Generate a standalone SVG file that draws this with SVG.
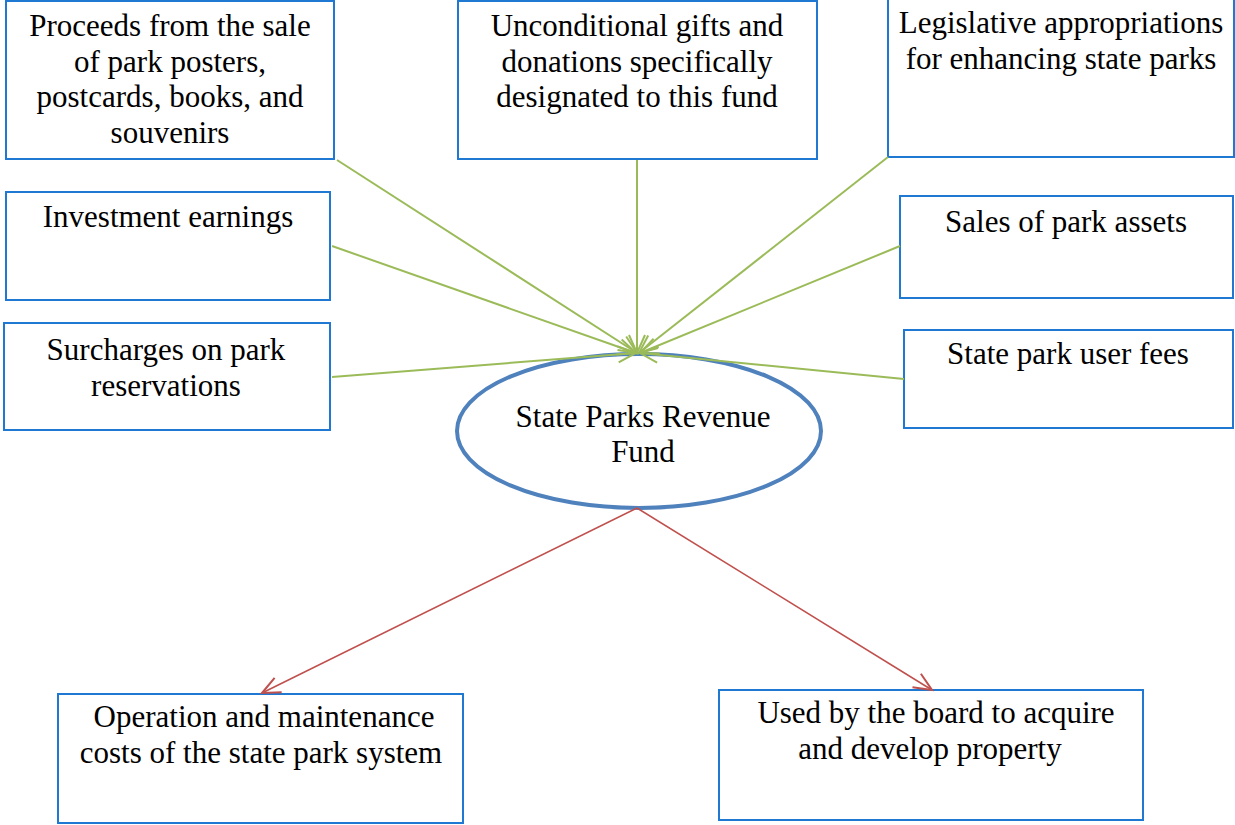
<svg xmlns="http://www.w3.org/2000/svg" width="1235" height="825" viewBox="0 0 1235 825">
<style>
.box{fill:#fff;stroke:#1f78d1;stroke-width:2}
.t{font-family:"Liberation Serif","Times New Roman",serif;font-size:31px;fill:#000;text-anchor:middle}
.g{stroke:#9bbb59;stroke-width:2;fill:none}
.r{stroke:#c0504d;stroke-width:1.6;fill:none}
</style>
<defs>
<marker id="ag" markerUnits="userSpaceOnUse" markerWidth="24" markerHeight="20" viewBox="0 0 24 20" refX="21" refY="10" orient="auto">
<path d="M3,2 L21,10 L3,18" stroke="#9bbb59" stroke-width="2" fill="none"/>
</marker>
<marker id="ar" markerUnits="userSpaceOnUse" markerWidth="24" markerHeight="20" viewBox="0 0 24 20" refX="21" refY="10" orient="auto">
<path d="M3,2 L21,10 L3,18" stroke="#c0504d" stroke-width="2" fill="none"/>
</marker>
</defs>
<rect width="1235" height="825" fill="#fff"/>
<g id="n1"><rect class="box" x="6" y="1" width="328" height="158"/>
<text class="t" x="170" y="36">Proceeds from the sale</text>
<text class="t" x="170" y="71.5">of park posters,</text>
<text class="t" x="170" y="107">postcards, books, and</text>
<text class="t" x="170" y="142.5">souvenirs</text></g>
<g id="n2"><rect class="box" x="458" y="1" width="359" height="158"/>
<text class="t" x="637" y="36">Unconditional gifts and</text>
<text class="t" x="637" y="71.5">donations specifically</text>
<text class="t" x="637" y="107">designated to this fund</text></g>
<g id="n3"><rect class="box" x="888" y="-2" width="346" height="159"/>
<text class="t" x="1061" y="33">Legislative appropriations</text>
<text class="t" x="1061" y="68.5">for enhancing state parks</text></g>
<g id="n4"><rect class="box" x="6" y="192" width="324" height="108"/>
<text class="t" x="168" y="227">Investment earnings</text></g>
<g id="n5"><rect class="box" x="900" y="196" width="333" height="102"/>
<text class="t" x="1066" y="232">Sales of park assets</text></g>
<g id="n6"><rect class="box" x="4" y="323" width="326" height="107"/>
<text class="t" x="166" y="360">Surcharges on park</text>
<text class="t" x="166" y="395.5">reservations</text></g>
<g id="n7"><rect class="box" x="904" y="330" width="329" height="98"/>
<text class="t" x="1068" y="364">State park user fees</text></g>
<g id="center"><ellipse cx="639" cy="431" rx="182" ry="77" fill="#fff" stroke="#4f81bd" stroke-width="4"/>
<text class="t" x="643" y="426.5">State Parks Revenue</text>
<text class="t" x="643" y="462">Fund</text></g>
<g id="n8"><rect class="box" x="58" y="694" width="405" height="129"/>
<text class="t" x="264" y="727">Operation and maintenance</text>
<text class="t" x="261" y="762.5">costs of the state park system</text></g>
<g id="n9"><rect class="box" x="719" y="690" width="424" height="130"/>
<text class="t" x="936" y="723">Used by the board to acquire</text>
<text class="t" x="930" y="758.5">and develop property</text></g>
<g id="connectors">
<line class="g" x1="337" y1="160" x2="637" y2="353" marker-end="url(#ag)"/>
<line class="g" x1="637" y1="160" x2="637" y2="353" marker-end="url(#ag)"/>
<line class="g" x1="888" y1="157" x2="639" y2="353" marker-end="url(#ag)"/>
<line class="g" x1="332" y1="246" x2="636" y2="353" marker-end="url(#ag)"/>
<line class="g" x1="900" y1="246" x2="640" y2="353" marker-end="url(#ag)"/>
<line class="g" x1="332" y1="377" x2="636" y2="353" marker-end="url(#ag)"/>
<line class="g" x1="904" y1="379" x2="640" y2="353" marker-end="url(#ag)"/>
<line class="r" x1="637" y1="508" x2="262" y2="693" marker-end="url(#ar)"/>
<line class="r" x1="637" y1="508" x2="932" y2="690" marker-end="url(#ar)"/>
</g>
</svg>
